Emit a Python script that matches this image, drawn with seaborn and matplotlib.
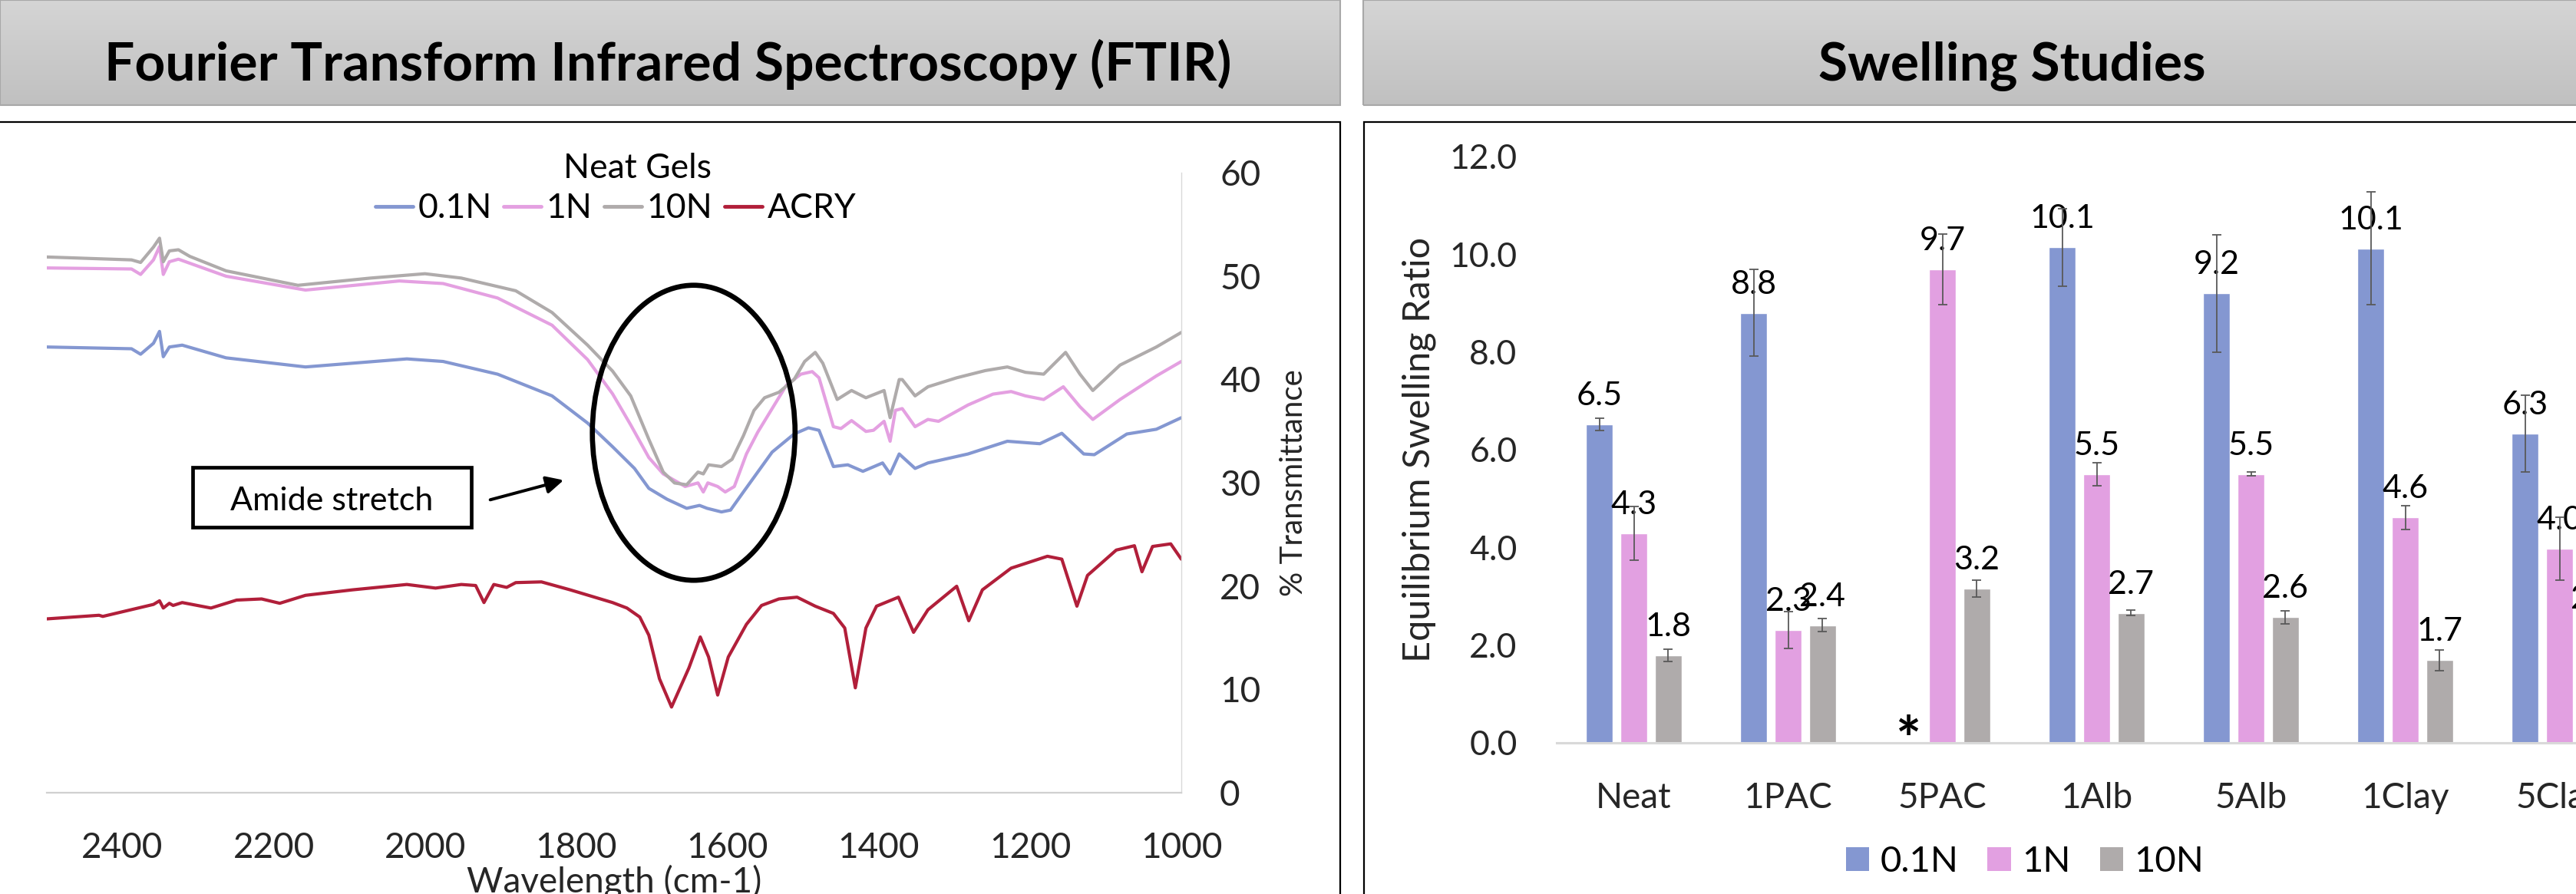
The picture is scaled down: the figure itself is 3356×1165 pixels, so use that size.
import numpy as np
import pandas as pd
import matplotlib
matplotlib.use("Agg")
import matplotlib.pyplot as plt
import seaborn as sns
from matplotlib.patches import Ellipse, Rectangle, FancyArrowPatch, Patch
from matplotlib.lines import Line2D
from matplotlib.ticker import MultipleLocator, FormatStrFormatter
from matplotlib.colors import LinearSegmentedColormap

# ---------------- FTIR data ----------------
wn_10N = [2500, 2388, 2376, 2359, 2351, 2346, 2338, 2326, 2311, 2263, 2168, 2072, 2000, 1952, 1880,
          1832, 1785, 1752, 1728, 1704, 1685, 1670, 1654, 1639, 1632, 1625, 1608, 1594, 1579, 1565,
          1551, 1532, 1512, 1498, 1484, 1474, 1455, 1436, 1417, 1393, 1385, 1373, 1369, 1352, 1335,
          1297, 1259, 1230, 1206, 1182, 1153, 1134, 1117, 1081, 1033, 1000]
t_10N = [51.84, 51.56, 51.31, 52.8, 53.66, 51.38, 52.43, 52.54, 51.9, 50.5, 49.1, 49.8, 50.22, 49.8, 48.57,
         46.47, 43.31, 40.8, 38.4, 34.19, 31.03, 29.97, 29.8, 31.03, 30.85, 31.73, 31.56, 32.26, 34.54, 36.99,
         38.22, 38.75, 39.98, 41.73, 42.61, 41.56, 38.05, 38.92, 38.22, 38.92, 36.29, 39.98, 39.98, 38.4, 39.28,
         40.15, 40.85, 41.2, 40.68, 40.5, 42.61, 40.5, 38.92, 41.38, 43.13, 44.54]

wn_1N = [2500, 2388, 2376, 2359, 2351, 2346, 2338, 2326, 2263, 2158, 2034, 1976, 1904, 1832, 1785,
         1752, 1728, 1704, 1685, 1656, 1639, 1632, 1626, 1613, 1603, 1591, 1575, 1560, 1541, 1522,
         1503, 1488, 1479, 1460, 1450, 1436, 1417, 1407, 1393, 1385, 1378, 1369, 1352, 1335, 1321,
         1282, 1249, 1225, 1206, 1182, 1156, 1134, 1117, 1081, 1033, 1000]
t_1N = [50.78, 50.68, 50.15, 51.56, 52.85, 50.15, 51.38, 51.63, 49.98, 48.64, 49.52, 49.27, 47.87, 45.24, 41.91,
        38.6, 35.59, 32.43, 30.85, 29.63, 29.98, 29.1, 29.98, 29.63, 29.1, 29.63, 32.78, 34.89, 37.17, 39.45,
        40.5, 40.75, 40.15, 35.42, 35.24, 36.01, 34.96, 35.07, 35.94, 34.01, 37.0, 37.17, 35.42, 36.12, 35.94,
        37.52, 38.57, 38.82, 38.4, 38.05, 39.28, 37.35, 36.12, 38.05, 40.33, 41.73]

wn_01N = [2500, 2388, 2376, 2359, 2351, 2346, 2338, 2321, 2263, 2158, 2024, 1976, 1904, 1832, 1785,
          1752, 1723, 1704, 1680, 1654, 1637, 1627, 1608, 1596, 1579, 1560, 1541, 1512, 1493, 1479,
          1460, 1441, 1421, 1395, 1385, 1373, 1352, 1335, 1282, 1230, 1187, 1158, 1129, 1115, 1072,
          1033, 1000]
t_01N = [43.13, 42.96, 42.43, 43.49, 44.64, 42.19, 43.13, 43.31, 42.08, 41.2, 41.98, 41.73, 40.5, 38.4, 35.77,
         33.48, 31.38, 29.45, 28.4, 27.52, 27.8, 27.52, 27.17, 27.35, 29.1, 31.03, 32.96, 34.71, 35.31, 35.07,
         31.56, 31.73, 31.1, 31.91, 30.85, 32.78, 31.38, 31.91, 32.78, 34.01, 33.77, 34.78, 32.78, 32.71, 34.71,
         35.17, 36.29]

wn_acry = [2500, 2431, 2426, 2359, 2351, 2346, 2338, 2333, 2321, 2283, 2249, 2216, 2192, 2158, 2096,
           2024, 1986, 1952, 1933, 1922, 1909, 1892, 1880, 1846, 1808, 1752, 1733, 1716, 1704, 1690,
           1674, 1651, 1636, 1625, 1613, 1599, 1575, 1555, 1532, 1508, 1484, 1460, 1445, 1431, 1417,
           1403, 1374, 1354, 1335, 1297, 1281, 1263, 1225, 1177, 1158, 1138, 1124, 1086, 1062, 1052,
           1038, 1014, 1000]
t_acry = [16.82, 17.17, 17.06, 18.22, 18.57, 17.87, 18.33, 18.12, 18.4, 17.87, 18.64, 18.75, 18.33, 19.1, 19.63,
          20.15, 19.8, 20.15, 20.05, 18.4, 20.15, 19.87, 20.33, 20.4, 19.63, 18.4, 17.87, 17.0, 15.24, 11.03,
          8.29, 12.08, 15.07, 13.13, 9.45, 13.13, 16.29, 18.12, 18.75, 18.92, 18.05, 17.35, 15.94, 10.15, 15.94,
          18.05, 18.92, 15.52, 17.7, 19.98, 16.64, 19.63, 21.73, 22.88, 22.6, 18.05, 21.03, 23.48, 23.9, 21.38,
          23.83, 24.08, 22.6]

ftir_series = ["0.1N", "1N", "10N", "ACRY"]
ftir_colors = ["#8497D1", "#E4A0E1", "#AFABAB", "#B11F3A"]

# ---------------- Swelling data ----------------
categories = ["Neat", "1PAC", "5PAC", "1Alb", "5Alb", "1Clay", "5Clay"]
conc_levels = ["0.1N", "1N", "10N"]
swell_01N = [6.52, 8.80, np.nan, 10.14, 9.20, 10.12, 6.33]
swell_1N = [4.29, 2.31, 9.69, 5.50, 5.50, 4.61, 3.97]
swell_10N = [1.79, 2.41, 3.16, 2.66, 2.57, 1.69, 2.35]
err_01N = [0.13, 0.89, np.nan, 0.79, 1.20, 1.15, 0.78]
err_1N = [0.55, 0.38, 0.72, 0.24, 0.04, 0.24, 0.64]
err_10N = [0.13, 0.14, 0.17, 0.05, 0.13, 0.21, 0.15]
bar_colors = ["#8497D1", "#E2A0E1", "#AFABAB"]

# ---------------- figure ----------------
W, H = 3356, 1165
sns.set_style("white")
plt.rcParams["font.family"] = ["Lato", "DejaVu Sans"]
plt.rcParams["text.color"] = "black"

fig = plt.figure(figsize=(W / 100, H / 100), dpi=100, facecolor="white")


def fx(px):
    return px / W


def fy(py):
    return 1 - py / H


# headers with gradient
grad = np.linspace(0, 1, 256).reshape(-1, 1)
gcmap = LinearSegmentedColormap.from_list("hdr", ["#d5d5d5", "#c0c0c0"])
for (x0, x1) in [(0, 1746), (1776, 3500)]:
    hax = fig.add_axes([fx(x0), fy(137), fx(x1 - x0), 137 / H])
    hax.imshow(grad, aspect="auto", cmap=gcmap, extent=[0, 1, 0, 1])
    hax.set_axis_off()
    fig.add_artist(Rectangle((fx(x0), fy(137)), fx(x1 - x0), 137 / H, transform=fig.transFigure,
                             fill=False, ec="#a8a8a8", lw=1.5))

fig.text(fx(870), fy(105), "Fourier Transform Infrared Spectroscopy (FTIR)", ha="center",
         va="baseline", fontsize=50, fontweight="bold")
fig.text(fx(2621), fy(105), "Swelling Studies", ha="center", va="baseline", fontsize=50,
         fontweight="bold")

# panel boxes
fig.add_artist(Rectangle((fx(-10), -0.3), fx(1756), fy(159) + 0.3, transform=fig.transFigure,
                         fill=False, ec="black", lw=1.6, zorder=10))
fig.add_artist(Rectangle((fx(1777), -0.3), 1.0, fy(159) + 0.3, transform=fig.transFigure,
                         fill=False, ec="black", lw=1.6, zorder=10))

# ---------------- FTIR panel ----------------
ax = fig.add_axes([fx(61), fy(1033), fx(1539 - 61), (1033 - 225) / H])
ax.set_facecolor("none")
frames = []
for name, wn, tt in [("0.1N", wn_01N, t_01N), ("1N", wn_1N, t_1N), ("10N", wn_10N, t_10N),
                     ("ACRY", wn_acry, t_acry)]:
    frames.append(pd.DataFrame({"wn": wn, "T": tt, "series": name}))
df_ftir = pd.concat(frames, ignore_index=True)
sns.lineplot(data=df_ftir, x="wn", y="T", hue="series", hue_order=ftir_series,
             palette=ftir_colors, estimator=None, sort=True, lw=3.0, ax=ax, legend=False)
ax.set_xlim(2500, 1000)
ax.set_ylim(0, 60)
ax.xaxis.set_major_locator(MultipleLocator(200))
ax.xaxis.set_minor_locator(MultipleLocator(40))
ax.yaxis.set_major_locator(MultipleLocator(10))
ax.yaxis.tick_right()
ax.yaxis.set_label_position("right")
ax.tick_params(axis="y", length=0, pad=36, labelsize=33)
ax.tick_params(axis="x", which="major", direction="in", length=12, width=1.4, color="#c8c8c8",
               pad=37, labelsize=33)
ax.tick_params(axis="x", which="minor", direction="in", length=8.5, width=1.4, color="#c8c8c8")
for s in ["top", "left"]:
    ax.spines[s].set_visible(False)
ax.spines["bottom"].set_color("#d0d0d0")
ax.spines["bottom"].set_linewidth(1.6)
ax.spines["right"].set_color("#d9d9d9")
ax.spines["right"].set_linewidth(1.0)
ax.set_xlabel("Wavelength (cm-1)", fontsize=33)
ax.set_ylabel("% Transmittance", fontsize=29)
ax.xaxis.set_label_coords(0.5, (1033 - 1127) / 808)
ax.yaxis.set_label_coords((1667 - 61) / 1478, 0.5)
ax.grid(False)

handles = [Line2D([0], [0], color=c, lw=3.5) for c in ftir_colors]
ax.legend(handles, ftir_series, loc="center", bbox_to_anchor=(fx(802), fy(272)),
          bbox_transform=fig.transFigure, ncol=4, frameon=False, fontsize=32,
          handlelength=1.1, handletextpad=0.15, columnspacing=0.35)
fig.text(fx(831), fy(232), "Neat Gels", ha="center", va="baseline", fontsize=32)

ax.add_patch(Ellipse((1644.7, 34.83), width=268, height=28.55, fill=False, ec="black",
                     lw=4.8, zorder=6))
fig.add_artist(Rectangle((fx(251), fy(687)), fx(614 - 251), (687 - 609) / H,
                         transform=fig.transFigure, fc="white", ec="black", lw=3.4, zorder=7))
fig.text(fx(432), fy(665), "Amide stretch", ha="center", va="baseline", fontsize=31, zorder=8)
fig.add_artist(FancyArrowPatch((fx(636), fy(652)), (fx(737), fy(625)), transform=fig.transFigure,
                               arrowstyle="-|>", mutation_scale=34, lw=2.9, color="black",
                               zorder=8))

# ---------------- Swelling panel ----------------
bx_left, bx_right = 2028, 2028 + 201 * 7
bx = fig.add_axes([fx(bx_left), fy(968), fx(bx_right - bx_left), (968 - 204) / H])
bx.set_facecolor("none")
df_bar = pd.DataFrame({
    "cat": categories * 3,
    "conc": [conc_levels[0]] * 7 + [conc_levels[1]] * 7 + [conc_levels[2]] * 7,
    "val": swell_01N + swell_1N + swell_10N,
})
err_map = {}
for lvl, errs in zip(conc_levels, [err_01N, err_1N, err_10N]):
    for i, e in enumerate(errs):
        err_map[(lvl, i)] = e
sns.barplot(data=df_bar, x="cat", y="val", hue="conc", order=categories, hue_order=conc_levels,
            palette=bar_colors, saturation=1, width=0.667, gap=0.22, errorbar=None, ax=bx)
bx.set_xlim(-0.5, 6.5)
bx.set_ylim(0, 12)
bx.yaxis.set_major_locator(MultipleLocator(2))
bx.yaxis.set_major_formatter(FormatStrFormatter("%.1f"))
bx.tick_params(axis="y", length=0, pad=37, labelsize=32)
bx.tick_params(axis="x", length=0, pad=37, labelsize=33)
for s in ["top", "left", "right"]:
    bx.spines[s].set_visible(False)
bx.spines["bottom"].set_color("#d9d9d9")
bx.spines["bottom"].set_linewidth(2.2)
bx.set_xlabel("")
bx.set_ylabel("Equilibrium Swelling Ratio", fontsize=35)
bx.yaxis.set_label_coords((1871 - bx_left) / (bx_right - bx_left), 0.5)

for lvl, cont in zip(conc_levels, bx.containers):
    xs, ys, es = [], [], []
    for bar in cont:
        h = bar.get_height()
        if np.isnan(h):
            continue
        xc = bar.get_x() + bar.get_width() / 2
        idx = int(round(xc))
        xs.append(xc)
        ys.append(h)
        es.append(err_map[(lvl, idx)])
    bx.errorbar(xs, ys, yerr=es, fmt="none", ecolor="#595959", elinewidth=1.3, capsize=4.5,
                capthick=1.3, zorder=5)
    bx.bar_label(cont, fmt="%.1f", padding=13, fontsize=31)

# asterisk at the missing 5PAC 0.1N bar
c1 = bx.containers[1]
c2 = bx.containers[2]
b1 = [b for b in c1 if int(round(b.get_x() + b.get_width() / 2)) == 2][0]
b2 = [b for b in c2 if int(round(b.get_x() + b.get_width() / 2)) == 2][0]
x1c = b1.get_x() + b1.get_width() / 2
x2c = b2.get_x() + b2.get_width() / 2
bx.text(x1c - (x2c - x1c), -0.36, "*", ha="center", va="baseline", fontsize=56,
        fontweight="bold", clip_on=False)

leg = bx.get_legend()
if leg is not None:
    leg.remove()
bhandles = [Patch(facecolor=c, edgecolor="none") for c in bar_colors]
fig.legend(bhandles, conc_levels, loc="center", bbox_to_anchor=(fx(2638), fy(1123)),
           ncol=3, frameon=False, fontsize=34, handlelength=0.65, handleheight=0.65,
           handletextpad=0.3, columnspacing=0.8)

fig.savefig("out.png", dpi=100, facecolor="white")
